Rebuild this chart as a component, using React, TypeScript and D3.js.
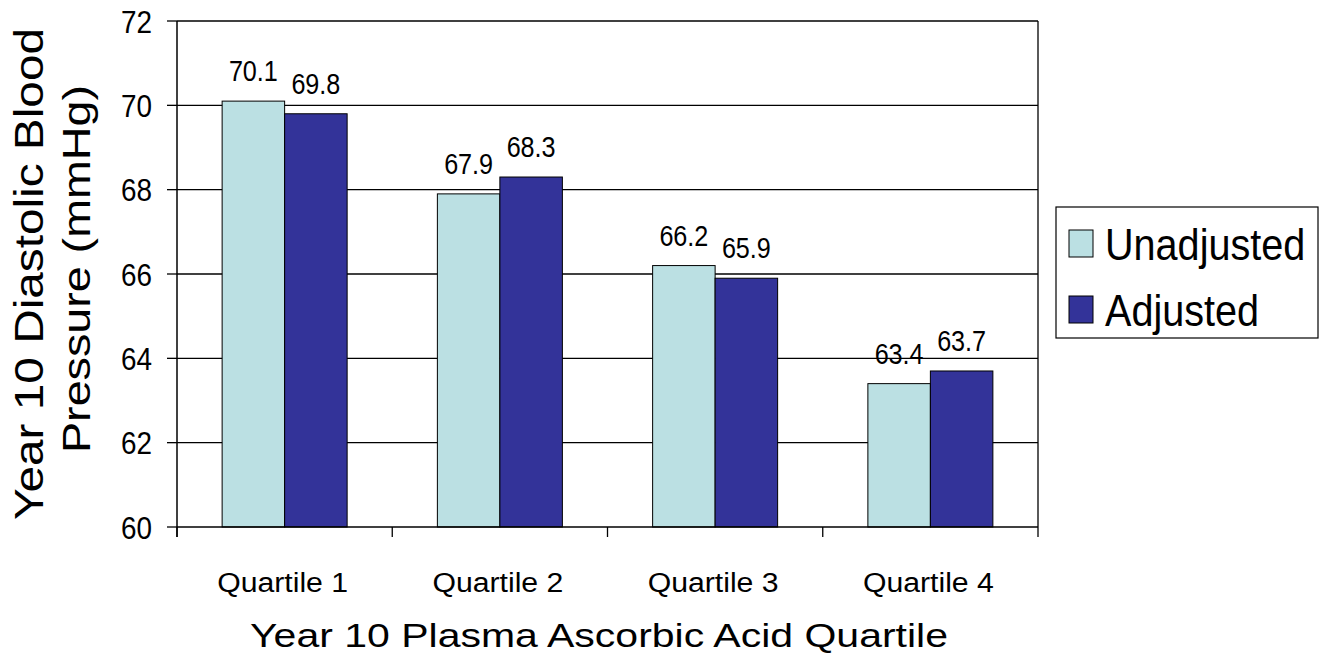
import { useEffect, useRef } from 'react'
import * as d3 from 'd3'

const categories = ['Quartile 1', 'Quartile 2', 'Quartile 3', 'Quartile 4']
const seriesNames = ['Unadjusted', 'Adjusted']
const unadjusted = [70.1, 67.9, 66.2, 63.4]
const adjusted = [69.8, 68.3, 65.9, 63.7]
const yTicks = [60, 62, 64, 66, 68, 70, 72]
const colors = ['#BBE0E3', '#333399']

const FONT = '"Liberation Sans", Arial, Helvetica, sans-serif'

export default function App() {
  const svgRef = useRef<SVGSVGElement>(null)

  useEffect(() => {
    if (!svgRef.current) return
    const width = 1320
    const height = 667
    const margin = { top: 21, right: 282, bottom: 140, left: 177 }
    const innerWidth = width - margin.left - margin.right
    const innerHeight = height - margin.top - margin.bottom

    const svg = d3.select(svgRef.current)
    svg.selectAll('*').remove()

    const g = svg.append('g').attr('transform', `translate(${margin.left},${margin.top})`)

    const x0 = d3.scaleBand<string>().domain(categories).range([0, innerWidth]).padding(0)
    const x1 = d3.scaleBand<string>()
      .domain(seriesNames)
      .range([0, x0.bandwidth()])
      .paddingInner(0)
      .paddingOuter(0.722)
    const y = d3.scaleLinear().domain([60, 72]).range([innerHeight, 0])

    const data = categories.map((c, i) => ({ cat: c, values: [unadjusted[i], adjusted[i]] }))

    // gridlines
    g.append('g')
      .selectAll('line')
      .data(yTicks.filter(t => t !== 60))
      .join('line')
      .attr('x1', 0)
      .attr('x2', innerWidth)
      .attr('y1', d => y(d))
      .attr('y2', d => y(d))
      .attr('stroke', '#000')
      .attr('stroke-width', 1.3)

    // right border
    g.append('line')
      .attr('x1', innerWidth).attr('x2', innerWidth)
      .attr('y1', 0).attr('y2', innerHeight)
      .attr('stroke', '#000').attr('stroke-width', 1.3)

    // bars
    const groups = g.selectAll('.grp')
      .data(data)
      .join('g')
      .attr('class', 'grp')
      .attr('transform', d => `translate(${x0(d.cat)},0)`)

    groups.selectAll('rect')
      .data(d => d.values.map((v, i) => ({ v, key: seriesNames[i], i })))
      .join('rect')
      .attr('x', d => x1(d.key)!)
      .attr('y', d => y(d.v))
      .attr('width', x1.bandwidth())
      .attr('height', d => innerHeight - y(d.v))
      .attr('fill', d => colors[d.i])
      .attr('stroke', '#000')
      .attr('stroke-width', 1)

    groups.selectAll('text')
      .data(d => d.values.map((v, i) => ({ v, key: seriesNames[i] })))
      .join('text')
      .attr('x', d => x1(d.key)! + x1.bandwidth() / 2)
      .attr('y', d => y(d.v) - 20)
      .attr('text-anchor', 'middle')
      .attr('font-family', FONT)
      .attr('font-size', 29)
      .attr('textLength', 49)
      .attr('lengthAdjust', 'spacingAndGlyphs')
      .attr('fill', '#000')
      .text(d => d.v.toFixed(1))

    // y axis
    g.append('line')
      .attr('x1', 0).attr('x2', 0)
      .attr('y1', 0).attr('y2', innerHeight + 10)
      .attr('stroke', '#000').attr('stroke-width', 1.5)
    const yAxis = g.append('g')
    yAxis.selectAll('line')
      .data(yTicks)
      .join('line')
      .attr('x1', -10).attr('x2', 0)
      .attr('y1', d => y(d)).attr('y2', d => y(d))
      .attr('stroke', '#000').attr('stroke-width', 1.3)
    yAxis.selectAll('text')
      .data(yTicks)
      .join('text')
      .attr('x', -25)
      .attr('y', d => y(d) + 11.5)
      .attr('text-anchor', 'end')
      .attr('font-family', FONT)
      .attr('font-size', 32)
      .attr('textLength', 31)
      .attr('lengthAdjust', 'spacingAndGlyphs')
      .text(d => String(d))

    // x axis
    g.append('line')
      .attr('x1', 0).attr('x2', innerWidth)
      .attr('y1', innerHeight).attr('y2', innerHeight)
      .attr('stroke', '#000').attr('stroke-width', 1.5)
    const xTickPos = categories.map(c => x0(c)!).concat([innerWidth])
    g.append('g')
      .selectAll('line')
      .data(xTickPos)
      .join('line')
      .attr('x1', d => d).attr('x2', d => d)
      .attr('y1', innerHeight).attr('y2', innerHeight + 10)
      .attr('stroke', '#000').attr('stroke-width', 1.3)
    g.append('g')
      .selectAll('text')
      .data(categories)
      .join('text')
      .attr('x', d => x0(d)! + x0.bandwidth() / 2 - 2)
      .attr('y', innerHeight + 65)
      .attr('text-anchor', 'middle')
      .attr('font-family', FONT)
      .attr('font-size', 27)
      .attr('textLength', 131)
      .attr('lengthAdjust', 'spacingAndGlyphs')
      .text(d => d)

    // x title
    svg.append('text')
      .attr('x', 599)
      .attr('y', 647)
      .attr('text-anchor', 'middle')
      .attr('font-family', FONT)
      .attr('font-size', 33)
      .attr('textLength', 698)
      .attr('lengthAdjust', 'spacingAndGlyphs')
      .text('Year 10 Plasma Ascorbic Acid Quartile')

    // y title (two lines)
    svg.append('text')
      .attr('transform', 'translate(43,274) rotate(-90)')
      .attr('text-anchor', 'middle')
      .attr('font-family', FONT)
      .attr('font-size', 40)
      .attr('textLength', 492)
      .attr('lengthAdjust', 'spacingAndGlyphs')
      .text('Year 10 Diastolic Blood')
    svg.append('text')
      .attr('transform', 'translate(90,269) rotate(-90)')
      .attr('text-anchor', 'middle')
      .attr('font-family', FONT)
      .attr('font-size', 38)
      .attr('textLength', 368)
      .attr('lengthAdjust', 'spacingAndGlyphs')
      .text('Pressure (mmHg)')

    // legend
    const legend = svg.append('g').attr('transform', 'translate(1056,207)')
    legend.append('rect')
      .attr('x', 0).attr('y', 0)
      .attr('width', 262).attr('height', 131)
      .attr('fill', '#fff')
      .attr('stroke', '#000').attr('stroke-width', 1.2)
    seriesNames.forEach((name, i) => {
      const ly = 23 + i * 66
      legend.append('rect')
        .attr('x', 13).attr('y', ly)
        .attr('width', 24).attr('height', 27)
        .attr('fill', colors[i])
        .attr('stroke', '#000').attr('stroke-width', 1)
      // narrow face: squeeze horizontally
      legend.append('text')
        .attr('transform', `translate(49,${ly + 30}) scale(0.9,1)`)
        .attr('font-family', FONT)
        .attr('font-size', 44)
        .text(name)
    })
  }, [])

  return (
    <svg
      ref={svgRef}
      width={1320}
      height={667}
      style={{ position: 'absolute', left: 0, top: 0, display: 'block', background: '#fff' }}
    />
  )
}
